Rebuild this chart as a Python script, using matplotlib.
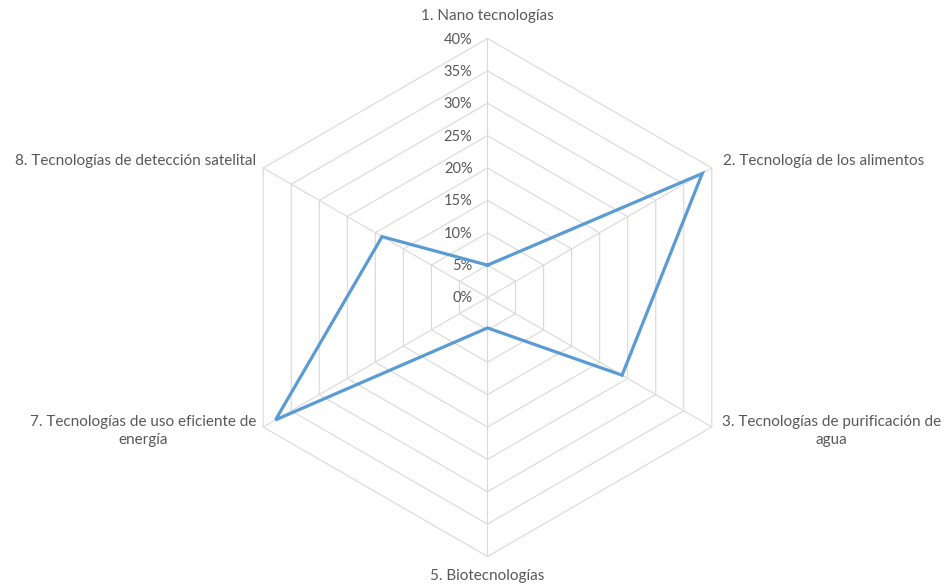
import matplotlib.pyplot as plt
import numpy as np

# datos del radar (porcentaje)
categorias = ["1. Nano tecnologías",
              "2. Tecnología de los alimentos",
              "3. Tecnologías de purificación de\nagua",
              "5. Biotecnologías",
              "7. Tecnologías de uso eficiente de\nenergía",
              "8. Tecnologías de detección satelital"]
valores = [5, 38.3, 24, 4.7, 37.8, 18.8]
niveles = [0, 5, 10, 15, 20, 25, 30, 35, 40]
etiquetas_niveles = ["0%", "5%", "10%", "15%", "20%", "25%", "30%", "35%", "40%"]

n = len(categorias)
ang = np.pi/2 - np.arange(n)*2*np.pi/n   # sentido horario desde arriba
cx, cy = np.cos(ang), np.sin(ang)

fig = plt.figure(figsize=(9.45, 5.86), dpi=100)
ax = fig.add_axes([0, 0, 1, 1])
ax.set_xlim(-75.29, 70.66)
ax.set_ylim(-44.56, 45.95)
ax.axis("off")

rejilla = "#d9d9d9"
for r in niveles[1:]:
    ax.plot(np.append(cx, cx[0])*r, np.append(cy, cy[0])*r, color=rejilla, lw=0.8, zorder=1)
rmax = niveles[-1]
for i in range(n):
    ax.plot([0, cx[i]*rmax], [0, cy[i]*rmax], color=rejilla, lw=0.8, zorder=1)

# etiquetas de los niveles
for r, t in zip(niveles, etiquetas_niveles):
    ax.annotate(t, xy=(0, r), xytext=(-15, -1), textcoords="offset pixels",
                ha="right", va="center", fontsize=10.5, color="#595959", family="Lato")

v = np.array(valores)
ax.plot(np.append(cx*v, cx[0]*v[0]), np.append(cy*v, cy[0]*v[0]),
        color="#5b9bd5", lw=2.3, solid_joinstyle="miter", zorder=3)

# etiquetas de las categorias
offs = [(0, 23, "center"), (11, 7, "left"), (10, -4, "left"),
        (0, -20, "center"), (-7, -4, "right"), (-7, 7, "right")]
for i in range(n):
    dx, dy, ha = offs[i]
    ax.annotate(categorias[i], xy=(cx[i]*rmax, cy[i]*rmax), xytext=(dx, dy),
                textcoords="offset pixels", ha=ha, va="center", multialignment="center",
                fontsize=11, color="#595959", family="Lato", linespacing=1.35)

fig.savefig("out.png", dpi=100)
